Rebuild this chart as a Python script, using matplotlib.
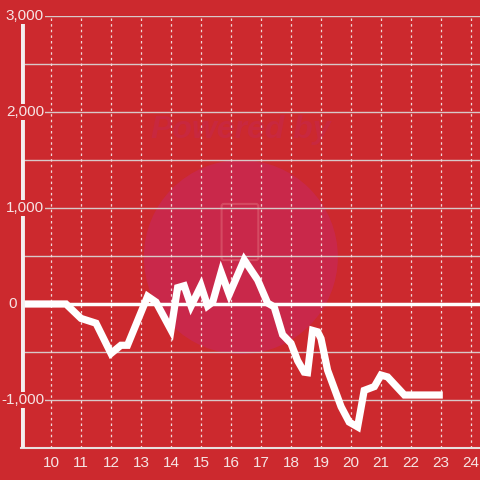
import matplotlib.pyplot as plt
from matplotlib.patches import Ellipse, FancyBboxPatch

plt.rcParams['font.family'] = ['Liberation Sans', 'DejaVu Sans']

# chart data
hours = [9.0, 10.5, 11.0, 11.5, 12.0, 12.33, 12.55, 13.22, 13.5, 14.0, 14.22, 14.44,
         14.67, 15.0, 15.22, 15.39, 15.67, 15.94, 16.44, 16.89, 17.22, 17.44, 17.72,
         18.0, 18.22, 18.44, 18.55, 18.72, 18.89, 19.0, 19.22, 19.67, 19.94, 20.22,
         20.44, 20.78, 21.0, 21.22, 21.78, 23.06]
values = [0, 0, -150, -200, -515, -430, -430, 80, 20, -270, 170, 190,
          -20, 190, -20, 20, 330, 100, 460, 250, 10, -30, -320,
          -410, -590, -710, -715, -275, -290, -360, -690, -1070, -1230, -1280,
          -900, -860, -740, -760, -948, -948]
x_ticks = list(range(10, 25))
y_ticks = [-1000, 0, 1000, 2000, 3000]

bg = '#cc292e'
txt = '#f6e4e4'

fig = plt.figure(figsize=(4.8, 4.8), dpi=100, facecolor=bg)
ax = fig.add_axes([21 / 480, 32 / 480, 459 / 480, 432 / 480])
ax.set_facecolor(bg)
ax.set_xlim(9.0, 24.3)
ax.set_ylim(-1500, 3000)

# watermark
ax.add_patch(Ellipse((0.479, 0.442), 2 * 97 / 459, 2 * 97 / 432, transform=ax.transAxes,
                     facecolor='#c9284a', edgecolor='none', zorder=0.2))
ax.add_patch(FancyBboxPatch((0.442, 0.44), 0.07, 0.12, boxstyle='round,pad=0.005',
                            transform=ax.transAxes, facecolor='none',
                            edgecolor='#d54a62', lw=1.5, zorder=0.3))
ax.text(0.479, 0.735, 'Powered by', transform=ax.transAxes, ha='center', va='center',
        fontsize=23, fontweight='bold', style='italic', color='#c8283f', zorder=0.3)

# grid
for v in range(-1500, 3001, 500):
    if v != 0:
        ax.axhline(v, color='#d8c8c8', lw=1, zorder=1)
for t in x_ticks:
    ax.axvline(t, color='#f0dada', lw=0.9, ls=(0, (2, 2.5)), zorder=1)
ax.axhline(0, color='white', lw=2.5, zorder=2)

ax.plot(hours, values, color='white', lw=5.2, solid_joinstyle='miter',
        solid_capstyle='butt', zorder=3)

for s in ['top', 'right', 'left']:
    ax.spines[s].set_visible(False)
ax.spines['bottom'].set_color('#e8e0e0')
ax.spines['bottom'].set_linewidth(1.5)
ax.axvline(9.03, ymin=0, ymax=0.982, color='#f4eeee', lw=3.5, zorder=4)

ax.set_xticks(x_ticks)
ax.set_xticklabels([str(t) for t in x_ticks])
ax.tick_params(axis='x', length=0, pad=6, labelsize=11, labelcolor=txt)
ax.set_yticks([])

for v in y_ticks:
    ypos = ax.transData.transform((0, v))[1] / 480
    if v == 0:
        ax.text(8 / 480, ypos, f'{v:,}', transform=fig.transFigure, ha='left',
                va='center', fontsize=11, color=txt, zorder=5)
    else:
        ax.text(44 / 480, ypos, f'{v:,}', transform=fig.transFigure, ha='right',
                va='center', fontsize=11, color=txt, zorder=5,
                bbox=dict(facecolor=bg, edgecolor='none', pad=1))

plt.savefig('out.png', dpi=100, facecolor=bg)
